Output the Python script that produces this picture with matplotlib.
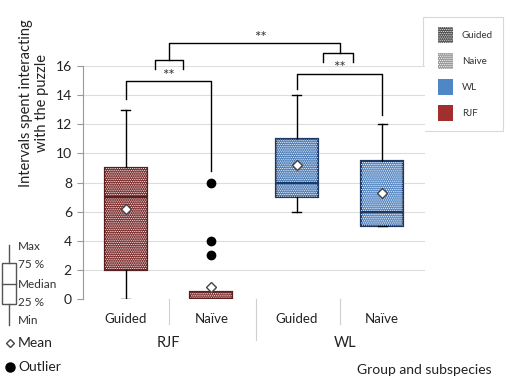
import matplotlib
matplotlib.use("Agg")
from matplotlib import pyplot as plt
from matplotlib.patches import PathPatch, Rectangle
import numpy as np

plt.rcParams['font.family'] = ['Lato', 'DejaVu Sans']
plt.rcParams['hatch.linewidth'] = 0.5

# data
groups = ['RJF', 'WL']
subgroups = ['Guided', 'Naïve', 'Guided', 'Naïve']
mins = [0, 0, 6, 5]
q1s = [2, 0, 7, 5]
medians = [7, 0, 8, 6]
q3s = [9, 0.5, 11, 9.5]
maxs = [13, 0.5, 14, 12]
means = [6.2, 0.8, 9.2, 7.25]
outliers = [[], [8, 4, 3], [], []]
fills = ['#7b2c2c', '#8a3a3a', '#4a7cb8', '#5a8ac4']
edges = ['#5a1e1e', '#5a1e1e', '#1f3864', '#1f3864']
hatches = ['.........', '........', '.........', '........']
yticks = [0, 2, 4, 6, 8, 10, 12, 14, 16]

fig = plt.figure(figsize=(5.13, 3.86), dpi=100)
W, H = 513, 386
ax = fig.add_axes([83/W, 1-299/H, (425-83)/W, (299-66)/H])

pos = np.arange(1, 5)
stats = []
for i in range(4):
    stats.append(dict(whislo=mins[i], q1=q1s[i], med=medians[i], q3=q3s[i],
                      whishi=maxs[i], mean=means[i], fliers=outliers[i]))

bp = ax.bxp(stats, positions=pos, widths=0.49, patch_artist=True,
            showmeans=True, capwidths=0.1,
            whiskerprops=dict(color='black', lw=1),
            capprops=dict(color='black', lw=1),
            meanprops=dict(marker='D', markerfacecolor='white',
                           markeredgecolor='#444444', markersize=5),
            flierprops=dict(marker='o', markerfacecolor='black',
                            markeredgecolor='black', markersize=6),
            zorder=3)
for i, b in enumerate(bp['boxes']):
    b.set_facecolor(fills[i])
    b.set_edgecolor(edges[i])
    b.set_linewidth(1.6)
    hp = PathPatch(b.get_path(), fill=False, hatch=hatches[i],
                   edgecolor='white', lw=0, zorder=3.5)
    ax.add_patch(hp)
    bp['medians'][i].set_color(edges[i])
    bp['medians'][i].set_linewidth(1.6)
    bp['medians'][i].set_zorder(4)
    bp['means'][i].set_zorder(5)
# naive RJF shows no whisker cap
bp['caps'][3].set_visible(False)

ax.set_xlim(0.5, 4.5)
ax.set_ylim(0, 16)
ax.set_yticks(yticks)
ax.tick_params(axis='y', labelsize=10, length=4, color='#999999',
               labelcolor='#222222', pad=4)
ax.set_xticks([])
for s in ['top', 'right', 'bottom']:
    ax.spines[s].set_visible(False)
ax.spines['left'].set_color('#999999')
ax.yaxis.grid(True, color='#dddddd', lw=0.8)
ax.set_axisbelow(True)

# category labels under the axis
for p, lab in zip(pos, subgroups):
    ax.text(p, -1.35, lab, ha='center', va='center', fontsize=9.5,
            color='#222222', clip_on=False)
for sx, depth in [(1.5, -1.75), (2.52, -2.8), (3.5, -1.75)]:
    ax.plot([sx, sx], [0, depth], color='#d0d0d0', lw=0.8, clip_on=False)
ax.text(1.5, -3.05, groups[0], ha='center', va='center', fontsize=10.5,
        color='#222222', clip_on=False)
ax.text(3.57, -3.05, groups[1], ha='center', va='center', fontsize=10.5,
        color='#222222', clip_on=False)

# significance brackets
k = dict(color='black', lw=1, clip_on=False)
ax.plot([1, 1, 2, 2], [13.73, 14.97, 14.97, 8.79], **k)
ax.plot([3, 3, 4, 4], [14.42, 15.45, 15.45, 12.64], **k)
ax.plot([1.34, 1.34, 1.67, 1.67], [15.79, 16.41, 16.41, 15.79], **k)
ax.plot([3.31, 3.31, 3.66, 3.66], [16.27, 16.89, 16.89, 16.27], **k)
ax.plot([1.5, 1.5, 3.5, 3.5], [16.41, 17.58, 17.58, 16.89], **k)
for sx, sy in [(1.5, 15.3), (3.5, 15.85), (2.58, 17.95)]:
    ax.text(sx, sy, '**', ha='center', va='center', fontsize=11,
            color='#333333', clip_on=False)

fig.text(34/W, 1-103/H, 'Intervals spent interacting\nwith the puzzle',
         rotation=90, ha='center', va='center', fontsize=10.5,
         color='#222222', multialignment='center')
fig.text(492/W, 1-370/H, 'Group and subspecies', ha='right', va='center',
         fontsize=10, color='#222222')

# overlay in pixel coordinates for the legends
lg = fig.add_axes([0, 0, 1, 1], zorder=-1)
lg.set_xlim(0, W)
lg.set_ylim(H, 0)
lg.axis('off')

# top right legend
lg.add_patch(Rectangle((423, 17), 80, 114, fill=False, edgecolor='#d8d8d8', lw=0.8))
leg_items = [('Guided', '#4a4a4a', '.........'), ('Naive', '#9a9a9a', '........'),
             ('WL', '#4f86c6', None), ('RJF', '#a0302e', None)]
for j, (lab, c, h) in enumerate(leg_items):
    yc = 35 + j * 26
    lg.add_patch(Rectangle((438, yc - 8), 15, 16, facecolor=c, edgecolor='none'))
    if h:
        lg.add_patch(Rectangle((438, yc - 8), 15, 16, fill=False, hatch=h,
                               edgecolor='white', lw=0))
    lg.text(462, yc, lab, ha='left', va='center', fontsize=7, color='#333333')

# bottom left boxplot key
lg.plot([9, 9], [245, 263], color='#555555', lw=1)
lg.plot([9, 9], [304, 325], color='#555555', lw=1)
lg.add_patch(Rectangle((2, 263), 14, 41, fill=False, edgecolor='#555555', lw=1))
lg.plot([2, 16], [284, 284], color='#555555', lw=1)
for lab, yy in [('Max', 247), ('75 %', 265), ('Median', 284), ('25 %', 302), ('Min', 320)]:
    lg.text(18, yy, lab, ha='left', va='center', fontsize=8.5, color='#333333')
lg.plot([10], [343], marker='D', markerfacecolor='white', markeredgecolor='#444444',
        markersize=4.5)
lg.text(18, 343, 'Mean', ha='left', va='center', fontsize=10, color='#222222')
lg.plot([10], [367], marker='o', color='black', markersize=6.5)
lg.text(18, 367, 'Outlier', ha='left', va='center', fontsize=10, color='#222222')

plt.savefig('out.png', dpi=100)
